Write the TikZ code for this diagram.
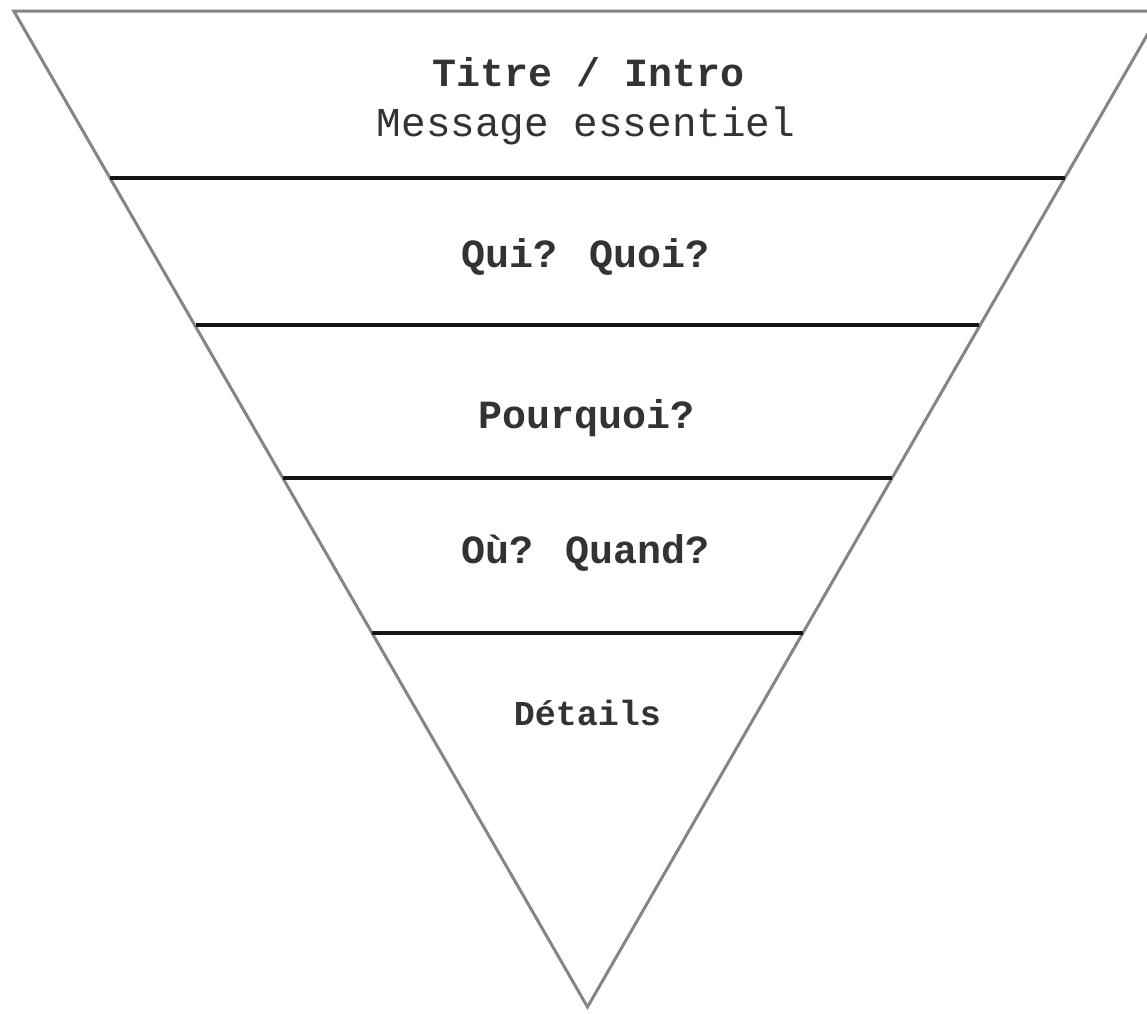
\documentclass[tikz,border=0pt]{standalone}
\usepackage{fontspec}
\newfontfamily\monof{Liberation Mono}
\begin{document}
\begin{tikzpicture}[x=1pt,y=-1pt,
  edge/.style={draw=black!48, line width=3pt, line join=miter},
  band/.style={draw=black!92, line width=4pt},
  lbl/.style={text=black!80, inner sep=0pt, anchor=base,
    font=\monof\bfseries\fontsize{40}{48}\selectfont},
  lblreg/.style={lbl, font=\monof\fontsize{41}{48}\selectfont},
  lblsmall/.style={lbl, font=\monof\bfseries\fontsize{35}{42}\selectfont}]
\useasboundingbox (0,0) rectangle (1147,1013);
\clip (0,0) rectangle (1147,1013);
\fill[white] (0,0) rectangle (1147,1013);
\coordinate (TL) at (13.8,11);
\coordinate (TR) at (1161,11);
\coordinate (B) at (587.5,1007);
\draw[edge] (TL) -- (TR) -- (B) -- cycle;
% band separators
\coordinate (L1) at (110,178);   \coordinate (R1) at (1065,178);
\coordinate (L2) at (196,325);   \coordinate (R2) at (979,325);
\coordinate (L3) at (283,478);   \coordinate (R3) at (892,478);
\coordinate (L4) at (372,633);   \coordinate (R4) at (803,633);
\draw[band] (L1) -- (R1);
\draw[band] (L2) -- (R2);
\draw[band] (L3) -- (R3);
\draw[band] (L4) -- (R4);
% labels
\node[lbl] (titre) at (589,86) {Titre / Intro};
\node[lblreg] (msg) at (586,136) {Message essentiel};
\node[lbl] (qui) at (586,267) {Qui? Quoi?};
\node[lbl] (pourquoi) at (587,428) {Pourquoi?};
\node[lbl] (ou) at (586,563) {Où? Quand?};
\node[lblsmall] (details) at (587.5,725) {Détails};
\end{tikzpicture}
\end{document}
